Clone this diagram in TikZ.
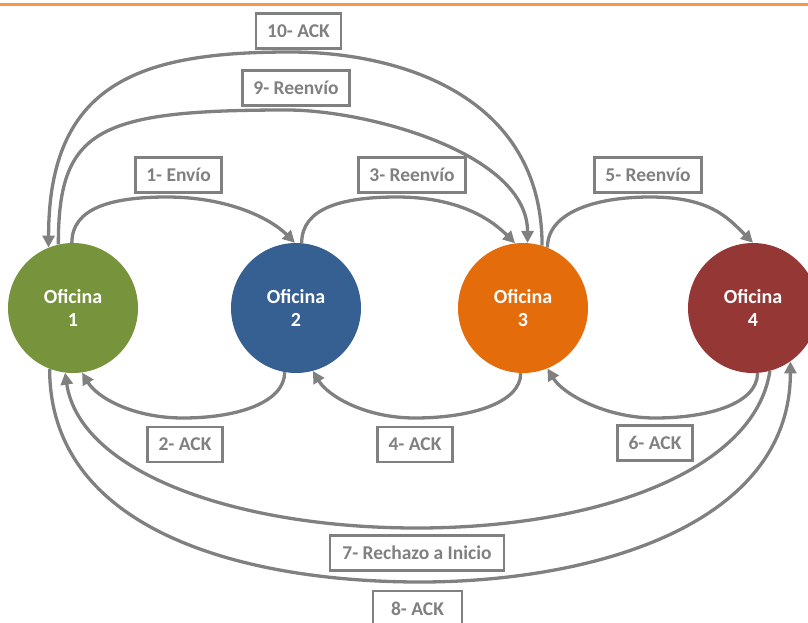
\documentclass[tikz,border=0pt]{standalone}
\usepackage{fontspec}
\setmainfont{Carlito}
\usetikzlibrary{arrows.meta}
\definecolor{cgreen}{RGB}{119,147,60}
\definecolor{cblue}{RGB}{55,96,146}
\definecolor{corange}{RGB}{228,108,10}
\definecolor{cred}{RGB}{149,55,53}
\definecolor{cgray}{RGB}{128,128,128}
\definecolor{ctop}{RGB}{247,150,70}
\begin{document}
\begin{tikzpicture}[x=1pt,y=-1pt,
  office/.style={circle, minimum size=130pt, inner sep=0pt, text=white,
    font=\fontsize{20}{23.5}\selectfont\bfseries, align=center},
  lbl/.style={draw=cgray, line width=2.5pt, fill=white, text=cgray,
    font=\fontsize{19.5}{23}\selectfont\bfseries, inner xsep=11pt, inner ysep=0pt,
    minimum height=35pt},
  conn/.style={draw=cgray, line width=3.3pt, -{Triangle[length=12pt,width=12pt]}},
]
\useasboundingbox (0,0) rectangle (808,623);
\clip (0,0) rectangle (808,623);
\draw[line width=3pt, ctop] (0,5) -- (808,5);

\node[office, fill=cgreen]  (o1) at (73,308)  {Oficina\\1};
\node[office, fill=cblue]   (o2) at (296,308) {Oficina\\2};
\node[office, fill=corange] (o3) at (523,308) {Oficina\\3};
\node[office, fill=cred]    (o4) at (753,308) {Oficina\\4};

\coordinate (t1) at (167,197);
\coordinate (t3) at (397,197);
\coordinate (t5) at (650,197);
\coordinate (t9) at (287,110);
\coordinate (t10) at (290,52);
\coordinate (b2) at (183,418);
\coordinate (b4) at (415,418);
\coordinate (b6) at (655,418);
\coordinate (b7) at (417,528);
\coordinate (b8) at (420,582);

% top arcs
\draw[conn] (o1.91) .. controls +(0,-35) and +(-55,0) .. (t1) .. controls +(60,0) and +(-25,-25) .. (o2.91);
\draw[conn] (o2.85) .. controls +(0,-35) and +(-55,0) .. (t3) .. controls +(60,0) and +(-25,-25) .. (o3.97);
\draw[conn] (o3.68) .. controls +(0,-35) and +(-55,0) .. (t5) .. controls +(60,0) and +(-25,-25) .. (o4.90);
\draw[conn] (o1.103) .. controls +(0,-115) and +(-190,0) .. (t9) .. controls +(80,0) and +(0,-90) .. (o3.86);
\draw[conn] (o3.73) .. controls +(0,-150) and +(110,0) .. (t10) .. controls +(-150,0) and +(0,-165) .. (o1.112);

% bottom arcs
\draw[conn] (o2.260) .. controls +(0,30) and +(55,0) .. (b2) .. controls +(-50,0) and +(15,25) .. (o1.278);
\draw[conn] (o3.268) .. controls +(0,30) and +(55,0) .. (b4) .. controls +(-50,0) and +(15,25) .. (o2.285);
\draw[conn] (o4.274) .. controls +(0,30) and +(55,0) .. (b6) .. controls +(-50,0) and +(15,25) .. (o3.292);
\draw[conn] (o4.285) .. controls +(-15,100) and +(180,0) .. (b7) .. controls +(-180,0) and +(15,100) .. (o1.263);
\draw[conn] (o1.249) .. controls +(0,165) and +(-170,0) .. (b8) .. controls +(170,0) and +(0,165) .. (o4.305);

% labels
\node[lbl] (l10) at (298.5,31) {10- ACK};
\node[lbl] (l9)  at (296,88)   {9- Reenvío};
\node[lbl] (l1)  at (178.5,175) {1- Envío};
\node[lbl] (l3)  at (412,175)  {3- Reenvío};
\node[lbl] (l5)  at (648,175)  {5- Reenvío};
\node[lbl] (l2)  at (185,444.5) {2- ACK};
\node[lbl] (l4)  at (415,444.5) {4- ACK};
\node[lbl] (l6)  at (655,443)  {6- ACK};
\node[lbl, minimum width=174pt] (l7) at (417,553) {7- Rechazo a Inicio};
\node[lbl, minimum width=89pt]  (l8) at (417.5,608.5) {8- ACK};
\end{tikzpicture}
\end{document}
